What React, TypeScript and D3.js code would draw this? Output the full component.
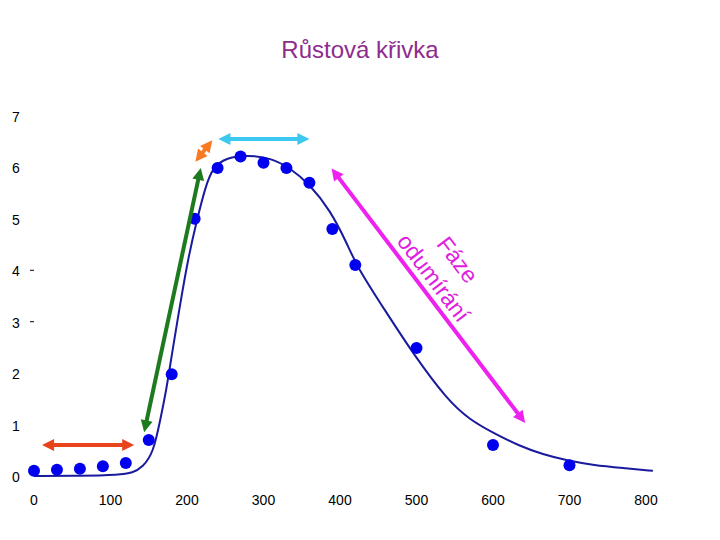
import React from "react";
import * as d3 from "d3";

const title = "Růstová křivka";
const xTicks = [0, 100, 200, 300, 400, 500, 600, 700, 800];
const yTicks = [0, 1, 2, 3, 4, 5, 6, 7];
const yDashTicks = [3, 4];

const pointX = [0, 30, 60, 90, 120, 150, 180, 210, 240, 270, 300, 330, 360, 390, 420, 500, 600, 700];
const pointY = [0.12, 0.14, 0.16, 0.21, 0.27, 0.72, 2.0, 5.02, 6.01, 6.23, 6.11, 6.01, 5.72, 4.82, 4.12, 2.51, 0.62, 0.23];

const curveX = [0, 60, 112, 129, 142, 156, 165, 173, 180, 191, 201, 213, 224, 234, 252, 278, 308, 335, 361, 387, 409, 422, 461, 495, 540, 570, 600, 635, 665, 697, 731, 775, 809];
const curveY = [0.02, 0.02, 0.04, 0.08, 0.19, 0.47, 1.11, 1.69, 2.37, 3.35, 4.22, 5.0, 5.64, 6.03, 6.21, 6.26, 6.21, 6.01, 5.68, 5.19, 4.55, 4.09, 3.19, 2.41, 1.5, 1.11, 0.86, 0.6, 0.44, 0.32, 0.23, 0.17, 0.12];

// phase arrows: [x1, y1, x2, y2] in data units
const arrowNames = ["lag", "log", "accel", "stationary", "death"];
const arrowCoords = [
  [10.5, 0.62, 131, 0.62],
  [144, 0.87, 218, 6.01],
  [211, 6.13, 233, 6.55],
  [241, 6.57, 360, 6.57],
  [389, 6.0, 642, 1.05],
];
const arrowColors = ["#E8441C", "#1E7A1E", "#F77A22", "#3CC8F0", "#EE22EE"];

const phaseLabelLines = ["Fáze", "odumírání"];
const phaseLabelPos = [538, 4.05];

export default function App() {
  const W = 720, H = 540;
  const x = d3.scaleLinear().domain([0, 800]).range([34, 646]);
  const y = d3.scaleLinear().domain([0, 7]).range([477, 117]);
  const line = d3
    .line<number>()
    .x((_, i) => x(curveX[i]))
    .y((_, i) => y(curveY[i]))
    .curve(d3.curveBasis);
  const curvePath = line(curveX) || "";

  const arrowEls = arrowCoords.map((c, i) => {
    const x1 = x(c[0]), y1 = y(c[1]), x2 = x(c[2]), y2 = y(c[3]);
    const dx = x2 - x1, dy = y2 - y1;
    const len = Math.hypot(dx, dy);
    const ux = dx / len, uy = dy / len;
    const nx = -uy, ny = ux;
    const hl = 12, hw = 6;
    const head = (tx: number, ty: number, dirx: number, diry: number) => {
      const bx = tx - dirx * hl, by = ty - diry * hl;
      return `${tx},${ty} ${bx + nx * hw},${by + ny * hw} ${bx - nx * hw},${by - ny * hw}`;
    };
    return (
      <g key={arrowNames[i]}>
        <line
          x1={x1 + ux * (hl - 2)}
          y1={y1 + uy * (hl - 2)}
          x2={x2 - ux * (hl - 2)}
          y2={y2 - uy * (hl - 2)}
          stroke={arrowColors[i]}
          strokeWidth={4}
        />
        <polygon points={head(x2, y2, ux, uy)} fill={arrowColors[i]} />
        <polygon points={head(x1, y1, -ux, -uy)} fill={arrowColors[i]} />
      </g>
    );
  });

  const angle = (Math.atan2(
    y(arrowCoords[4][3]) - y(arrowCoords[4][1]),
    x(arrowCoords[4][2]) - x(arrowCoords[4][0])
  ) * 180) / Math.PI;

  return (
    <svg width={W} height={H} style={{ position: "absolute", left: 0, top: 0, background: "#fff" }}
      fontFamily="'Liberation Sans', Arial, sans-serif">
      <text x={360} y={58} textAnchor="middle" fontSize={24} fill="#8E2C8E">{title}</text>
      {yTicks.map((t) => (
        <text key={"y" + t} x={12} y={y(t) + 5} fontSize={14} fill="#000">{t}</text>
      ))}
      {yDashTicks.map((t) => (
        <line key={"d" + t} x1={30} x2={34} y1={y(t) - 1} y2={y(t) - 1} stroke="#000" strokeWidth={1} />
      ))}
      {xTicks.map((t) => (
        <text key={"x" + t} x={x(t)} y={505} textAnchor="middle" fontSize={14} fill="#000">{t}</text>
      ))}
      <path d={curvePath} fill="none" stroke="#1A1A9E" strokeWidth={2} />
      {pointX.map((px, i) => (
        <circle key={"p" + i} cx={x(px)} cy={y(pointY[i])} r={6} fill="#0000EE" />
      ))}
      {arrowEls}
      <g transform={`translate(${x(phaseLabelPos[0])},${y(phaseLabelPos[1])}) rotate(${angle})`}>
        {phaseLabelLines.map((l, i) => (
          <text key={l} x={0} y={(i - 0.5) * 30} textAnchor="middle" dominantBaseline="central"
            fontSize={23} fill="#E020E0">{l}</text>
        ))}
      </g>
    </svg>
  );
}
